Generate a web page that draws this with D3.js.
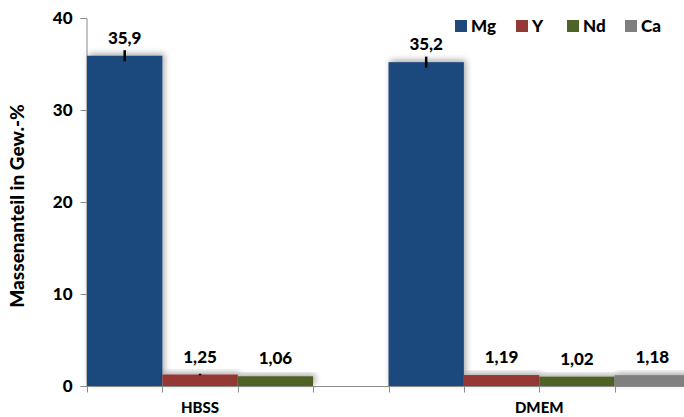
<!DOCTYPE html>
<html>
<head>
<meta charset="utf-8">
<script src="https://cdn.jsdelivr.net/npm/d3@7"></script>
<style>
  body { margin: 0; background: #fff; }
  text { font-family: Lato, "Open Sans", sans-serif; font-weight: 900; }
</style>
</head>
<body>
<svg id="chart" width="684" height="417"></svg>
<script>
const media = ['HBSS', 'DMEM'];
const elements = ['Mg', 'Y', 'Nd', 'Ca'];
const hbssValues = [35.9, 1.25, 1.06];
const dmemValues = [35.2, 1.19, 1.02, 1.18];
const hbssErrors = [0.6, 0.08, 0];
const dmemErrors = [0.6, 0, 0, 0];
const yTicks = [0, 10, 20, 30, 40];
const colors = ['#1f497d', '#953735', '#4f6228', '#7f7f7f'];

const svg = d3.select('#chart');
const width = parseFloat(svg.attr('width'));
const height = parseFloat(svg.attr('height'));

const rows = [
    { medium: 'HBSS', values: hbssValues, errors: hbssErrors },
    { medium: 'DMEM', values: dmemValues, errors: dmemErrors }
];

const x0 = d3.scaleBand().domain(media).range([87, 690]);
const x1 = d3.scaleBand().domain(elements).range([0, x0.bandwidth()]);
const y = d3.scaleLinear().domain([0, 40]).range([386, 18]);
const color = d3.scaleOrdinal().domain(elements).range(colors);
const fmt = v => d3.format('.3~g')(v).replace('.', ',');

const defs = svg.append('defs');
const shadow = defs.append('filter').attr('id', 'shadow')
    .attr('x', '-20%').attr('y', '-40%').attr('width', '140%').attr('height', '180%');
shadow.append('feDropShadow').attr('dx', 2).attr('dy', -2).attr('stdDeviation', 3)
    .attr('flood-color', '#000').attr('flood-opacity', 0.35);

// y axis
const yAxis = svg.append('g').attr('transform', 'translate(86.5,0)')
    .call(d3.axisLeft(y).tickValues(yTicks).tickSize(6).tickPadding(8));
yAxis.select('.domain').attr('stroke', '#8c8c8c');
yAxis.selectAll('.tick line').attr('stroke', '#8c8c8c');
yAxis.selectAll('.tick text').attr('font-size', '17px').attr('fill', '#000')
    .attr('font-family', 'Lato, sans-serif');

svg.append('text')
    .attr('transform', `translate(24,${ y(20) + 4 }) rotate(-90)`)
    .attr('text-anchor', 'middle').attr('font-size', '19px')
    .text('Massenanteil in Gew.-%');

// bars
const group = svg.selectAll('.group').data(rows).enter().append('g')
    .attr('class', 'group')
    .attr('transform', d => `translate(${ x0(d.medium) },0)`);

const bar = group.selectAll('.bar')
    .data(d => d.values.map((v, i) => ({ element: elements[i], value: v, error: d.errors[i] })))
    .enter().append('g').attr('class', 'bar');

bar.append('rect')
    .attr('x', d => x1(d.element))
    .attr('y', d => y(d.value))
    .attr('width', x1.bandwidth())
    .attr('height', d => y(0) - y(d.value))
    .attr('fill', d => color(d.element))
    .attr('filter', 'url(#shadow)');

bar.filter(d => d.error > 0).append('line')
    .attr('x1', d => x1(d.element) + x1.bandwidth() / 2)
    .attr('x2', d => x1(d.element) + x1.bandwidth() / 2)
    .attr('y1', d => y(d.value + d.error))
    .attr('y2', d => y(d.value - d.error))
    .attr('stroke', '#000').attr('stroke-width', 2.5);

bar.append('text')
    .attr('x', d => x1(d.element) + x1.bandwidth() / 2)
    .attr('y', d => y(d.value) - 12)
    .attr('text-anchor', 'middle').attr('font-size', '17px')
    .text(d => fmt(d.value));

// x axis
const xLine = svg.append('g').attr('transform', `translate(0,${ y(0) + 0.5 })`);
xLine.append('line').attr('x1', 86).attr('x2', width).attr('stroke', '#8c8c8c');
const boundaries = media.flatMap(m => elements.map(e => x0(m) + x1(e)));
xLine.selectAll('.xt').data(boundaries).enter().append('line')
    .attr('x1', d => Math.round(d) + 0.5).attr('x2', d => Math.round(d) + 0.5)
    .attr('y1', 0).attr('y2', 6).attr('stroke', '#8c8c8c');

xLine.selectAll('.cat').data(rows).enter().append('text')
    .attr('x', d => x0(d.medium) + x1.bandwidth() * d.values.length / 2)
    .attr('y', 26).attr('text-anchor', 'middle').attr('font-size', '15px')
    .text(d => d.medium);

// legend
const legendX = [455, 516, 567, 625];
const legend = svg.selectAll('.legend').data(elements).enter().append('g')
    .attr('class', 'legend')
    .attr('transform', (d, i) => `translate(${ legendX[i] },20)`);
legend.append('rect').attr('width', 12).attr('height', 12).attr('fill', d => color(d));
legend.append('text').attr('x', 16).attr('y', 12).attr('font-size', '17px').text(d => d);
</script>
</body>
</html>
